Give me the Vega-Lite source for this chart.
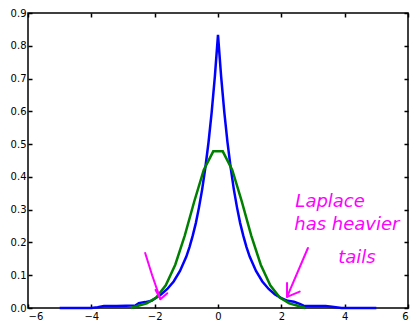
{
  "$schema": "https://vega.github.io/schema/vega-lite/v6.json",
  "width": 380,
  "height": 295,
  "autosize": "none",
  "padding": {"left": 28, "top": 13, "right": 3, "bottom": 12},
  "background": "white",
  "config": {
    "view": {"stroke": "black", "strokeWidth": 1.5},
    "axis": {
      "grid": false,
      "domain": false,
      "ticks": true,
      "tickColor": "black",
      "tickSize": -4,
      "tickWidth": 1.5,
      "labelFont": "DejaVu Sans",
      "labelFontSize": 10,
      "labelColor": "black",
      "title": null
    }
  },
  "datasets": {
    "curves": [
      {"s": "laplace", "x": -5.0, "y": 0},
      {"s": "laplace", "x": -4.0, "y": 0},
      {"s": "laplace", "x": -3.8, "y": 0.002},
      {"s": "laplace", "x": -3.6, "y": 0.006},
      {"s": "laplace", "x": -3.2, "y": 0.006},
      {"s": "laplace", "x": -2.9, "y": 0.007},
      {"s": "laplace", "x": -2.6, "y": 0.008},
      {"s": "laplace", "x": -2.5, "y": 0.015},
      {"s": "laplace", "x": -2.3, "y": 0.018},
      {"s": "laplace", "x": -2.1, "y": 0.022},
      {"s": "laplace", "x": -2.0, "y": 0.028},
      {"s": "laplace", "x": -1.8, "y": 0.041},
      {"s": "laplace", "x": -1.6, "y": 0.058},
      {"s": "laplace", "x": -1.4, "y": 0.081},
      {"s": "laplace", "x": -1.2, "y": 0.113},
      {"s": "laplace", "x": -1.0, "y": 0.157},
      {"s": "laplace", "x": -0.9, "y": 0.186},
      {"s": "laplace", "x": -0.8, "y": 0.22},
      {"s": "laplace", "x": -0.7, "y": 0.259},
      {"s": "laplace", "x": -0.6, "y": 0.307},
      {"s": "laplace", "x": -0.5, "y": 0.362},
      {"s": "laplace", "x": -0.4, "y": 0.428},
      {"s": "laplace", "x": -0.3, "y": 0.505},
      {"s": "laplace", "x": -0.2, "y": 0.597},
      {"s": "laplace", "x": -0.1, "y": 0.705},
      {"s": "laplace", "x": 0.0, "y": 0.833},
      {"s": "laplace", "x": 0.1, "y": 0.705},
      {"s": "laplace", "x": 0.2, "y": 0.597},
      {"s": "laplace", "x": 0.3, "y": 0.505},
      {"s": "laplace", "x": 0.4, "y": 0.428},
      {"s": "laplace", "x": 0.5, "y": 0.362},
      {"s": "laplace", "x": 0.6, "y": 0.307},
      {"s": "laplace", "x": 0.7, "y": 0.259},
      {"s": "laplace", "x": 0.8, "y": 0.22},
      {"s": "laplace", "x": 0.9, "y": 0.186},
      {"s": "laplace", "x": 1.0, "y": 0.157},
      {"s": "laplace", "x": 1.2, "y": 0.113},
      {"s": "laplace", "x": 1.4, "y": 0.081},
      {"s": "laplace", "x": 1.6, "y": 0.058},
      {"s": "laplace", "x": 1.8, "y": 0.041},
      {"s": "laplace", "x": 2.0, "y": 0.03},
      {"s": "laplace", "x": 2.2, "y": 0.022},
      {"s": "laplace", "x": 2.4, "y": 0.019},
      {"s": "laplace", "x": 2.6, "y": 0.012},
      {"s": "laplace", "x": 2.7, "y": 0.007},
      {"s": "laplace", "x": 3.0, "y": 0.006},
      {"s": "laplace", "x": 3.4, "y": 0.006},
      {"s": "laplace", "x": 3.6, "y": 0.004},
      {"s": "laplace", "x": 3.9, "y": 0},
      {"s": "laplace", "x": 5.0, "y": 0},
      {"s": "gauss", "x": -2.75, "y": 0},
      {"s": "gauss", "x": -2.55, "y": 0.006},
      {"s": "gauss", "x": -2.25, "y": 0.014},
      {"s": "gauss", "x": -1.95, "y": 0.032},
      {"s": "gauss", "x": -1.65, "y": 0.069},
      {"s": "gauss", "x": -1.35, "y": 0.132},
      {"s": "gauss", "x": -1.05, "y": 0.221},
      {"s": "gauss", "x": -0.75, "y": 0.325},
      {"s": "gauss", "x": -0.45, "y": 0.421},
      {"s": "gauss", "x": -0.15, "y": 0.478},
      {"s": "gauss", "x": 0.15, "y": 0.478},
      {"s": "gauss", "x": 0.45, "y": 0.421},
      {"s": "gauss", "x": 0.75, "y": 0.325},
      {"s": "gauss", "x": 1.05, "y": 0.221},
      {"s": "gauss", "x": 1.35, "y": 0.132},
      {"s": "gauss", "x": 1.65, "y": 0.069},
      {"s": "gauss", "x": 1.95, "y": 0.032},
      {"s": "gauss", "x": 2.25, "y": 0.014},
      {"s": "gauss", "x": 2.55, "y": 0.006},
      {"s": "gauss", "x": 2.75, "y": 0}
    ],
    "arrows": [
      {"seg": "l1", "o": 1, "x": -2.3, "y": 0.168},
      {"seg": "l1", "o": 2, "x": -2.08, "y": 0.1},
      {"seg": "l1", "o": 3, "x": -1.82, "y": 0.027},
      {"seg": "l2", "o": 1, "x": -1.97, "y": 0.055},
      {"seg": "l2", "o": 2, "x": -1.82, "y": 0.027},
      {"seg": "l2", "o": 3, "x": -1.6, "y": 0.045},
      {"seg": "r1", "o": 1, "x": 2.84, "y": 0.183},
      {"seg": "r1", "o": 2, "x": 2.18, "y": 0.034},
      {"seg": "r2", "o": 1, "x": 2.18, "y": 0.076},
      {"seg": "r2", "o": 2, "x": 2.18, "y": 0.034},
      {"seg": "r2", "o": 3, "x": 2.58, "y": 0.05}
    ],
    "notes": [
      {"t": "Laplace", "x": 3.54, "y": 0.323},
      {"t": "has heavier", "x": 4.07, "y": 0.253},
      {"t": "tails", "x": 4.39, "y": 0.153}
    ]
  },
  "resolve": {"axis": {"x": "independent", "y": "independent"}},
  "layer": [
    {
      "data": {"name": "curves"},
      "mark": {"type": "line", "strokeWidth": 2.5},
      "encoding": {
        "x": {"field": "x", "type": "quantitative", "scale": {"domain": [-6, 6], "nice": false, "zero": false},
              "axis": {"orient": "bottom", "values": [-6, -4, -2, 0, 2, 4, 6], "labelPadding": 7, "format": "d"}},
        "y": {"field": "y", "type": "quantitative", "scale": {"domain": [0, 0.9], "nice": false},
              "axis": {"orient": "left", "values": [0, 0.1, 0.2, 0.3, 0.4, 0.5, 0.6, 0.7, 0.8, 0.9], "format": ".1f", "labelPadding": 6}},
        "color": {"field": "s", "type": "nominal", "scale": {"domain": ["laplace", "gauss"], "range": ["#0000ff", "#008000"]}, "legend": null},
        "order": {"field": "x", "type": "quantitative"}
      }
    },
    {
      "data": {"name": "arrows"},
      "mark": {"type": "line", "strokeWidth": 2, "color": "#ff00ff", "strokeCap": "round", "strokeJoin": "round"},
      "encoding": {
        "x": {"field": "x", "type": "quantitative",
              "axis": {"orient": "top", "values": [-6, -4, -2, 0, 2, 4, 6], "labels": false}},
        "y": {"field": "y", "type": "quantitative",
              "axis": {"orient": "right", "values": [0, 0.1, 0.2, 0.3, 0.4, 0.5, 0.6, 0.7, 0.8, 0.9], "labels": false}},
        "detail": {"field": "seg"},
        "order": {"field": "o", "type": "quantitative"}
      }
    },
    {
      "data": {"name": "notes"},
      "mark": {"type": "text", "color": "#ff00ff", "font": "DejaVu Sans", "fontSize": 18, "fontStyle": "italic", "align": "center", "baseline": "middle"},
      "encoding": {
        "x": {"field": "x", "type": "quantitative", "axis": null},
        "y": {"field": "y", "type": "quantitative", "axis": null},
        "text": {"field": "t"}
      }
    }
  ]
}
